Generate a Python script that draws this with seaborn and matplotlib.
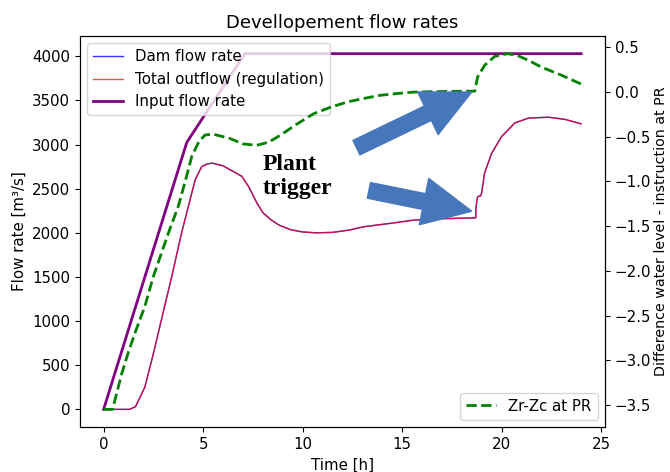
import matplotlib
matplotlib.use("Agg")
import matplotlib.pyplot as plt
import seaborn as sns
import numpy as np

# ---- data ----
t_input = [0, 4.18, 7.1, 24]
q_input = [0, 3025, 4030, 4030]

t_out = [0, 1.3, 1.6, 2.07, 2.5, 2.9, 3.42, 3.92, 4.26, 4.6, 4.93, 5.2, 5.45, 6.0,
         6.95, 7.3, 7.7, 8.0, 8.4, 8.8, 9.4, 10.0, 10.7, 11.5, 12.3, 13.1, 14.5,
         15.6, 17.0, 18.7, 18.72, 18.8, 18.95, 19.0, 19.15, 19.5, 20.0, 20.67,
         21.35, 22.36, 23.2, 24.0]
q_out = [0, 0, 30, 250, 630, 1010, 1500, 2000, 2300, 2600, 2750, 2780, 2790, 2760,
         2640, 2520, 2340, 2230, 2150, 2090, 2035, 2010, 2000, 2005, 2030, 2070, 2110,
         2145, 2160, 2170, 2300, 2410, 2420, 2450, 2680, 2900, 3090, 3245,
         3300, 3310, 3285, 3235]

t_zr = [0, 0.45, 0.9, 1.23, 1.6, 2.07, 2.49, 2.91, 3.3, 3.75, 4.1, 4.43, 4.8, 5.1,
        5.5, 6.36, 7.0, 7.7, 8.3, 8.9, 9.7, 10.57, 11.4, 12.25, 13.1, 13.9, 14.8,
        15.6, 16.5, 18.3, 18.65, 18.8, 19.15, 19.66, 20.3, 20.8, 21.4, 22.0, 23.0, 24.0]
z_zr = [-3.55, -3.55, -3.16, -2.92, -2.68, -2.40, -2.07, -1.80, -1.55, -1.28, -1.0,
        -0.72, -0.55, -0.48, -0.47, -0.52, -0.58, -0.595, -0.56, -0.48, -0.36, -0.24,
        -0.17, -0.11, -0.07, -0.036, -0.015, 0.0, 0.005, 0.01, 0.01, 0.17, 0.30, 0.40,
        0.43, 0.41, 0.35, 0.28, 0.19, 0.09]

title = "Devellopement flow rates"
xlabel = "Time [h]"
ylabel_left = "Flow rate [m³/s]"
ylabel_right = "Difference water level - instruction at PR"
annotation = "Plant\ntrigger"

plt.rcParams["font.size"] = 10.8

# ---- figure ----
fig = plt.figure(figsize=(6.7, 4.72), dpi=100)
ax = fig.add_axes([0.119, 0.095, 0.903 - 0.119, 0.924 - 0.095])

sns.lineplot(x=t_out, y=q_out, ax=ax, color="blue", linewidth=1, alpha=0.8,
             label="Dam flow rate", sort=False, estimator=None)
sns.lineplot(x=t_out, y=q_out, ax=ax, color="red", linewidth=1, alpha=0.7,
             label="Total outflow (regulation)", sort=False, estimator=None)
sns.lineplot(x=t_input, y=q_input, ax=ax, color="purple", linewidth=2,
             label="Input flow rate", sort=False, estimator=None)
ax.set_xlabel(xlabel)
ax.set_ylabel(ylabel_left)
ax.set_title(title, fontsize=13)
ax.legend(loc="upper left")
ax.set_xticks([0, 5, 10, 15, 20, 25])

ax2 = ax.twinx()
sns.lineplot(x=t_zr, y=z_zr, ax=ax2, color="green", linewidth=2, linestyle="--",
             label="Zr-Zc at PR", sort=False, estimator=None)
ax2.set_ylabel(ylabel_right, fontsize=10.3, labelpad=2)
ax2.legend(loc="lower right")

ax.text(7.98, 2640, annotation, family=["Liberation Serif", "DejaVu Serif"],
        fontweight="bold", fontsize=17, ha="left", va="center")

arrow_kw = dict(arrowstyle="simple,head_length=3.5,head_width=3.4,tail_width=1.15",
                color="#4677BA", shrinkA=0, shrinkB=0, mutation_scale=10)
ax2.annotate("", xy=(18.5, 0.0), xycoords="data", xytext=(-83, -40),
             textcoords="offset points", arrowprops=arrow_kw)
ax.annotate("", xy=(18.5, 2245), xycoords="data", xytext=(-74, 15),
            textcoords="offset points", arrowprops=arrow_kw)

fig.savefig("out.png", dpi=100)
